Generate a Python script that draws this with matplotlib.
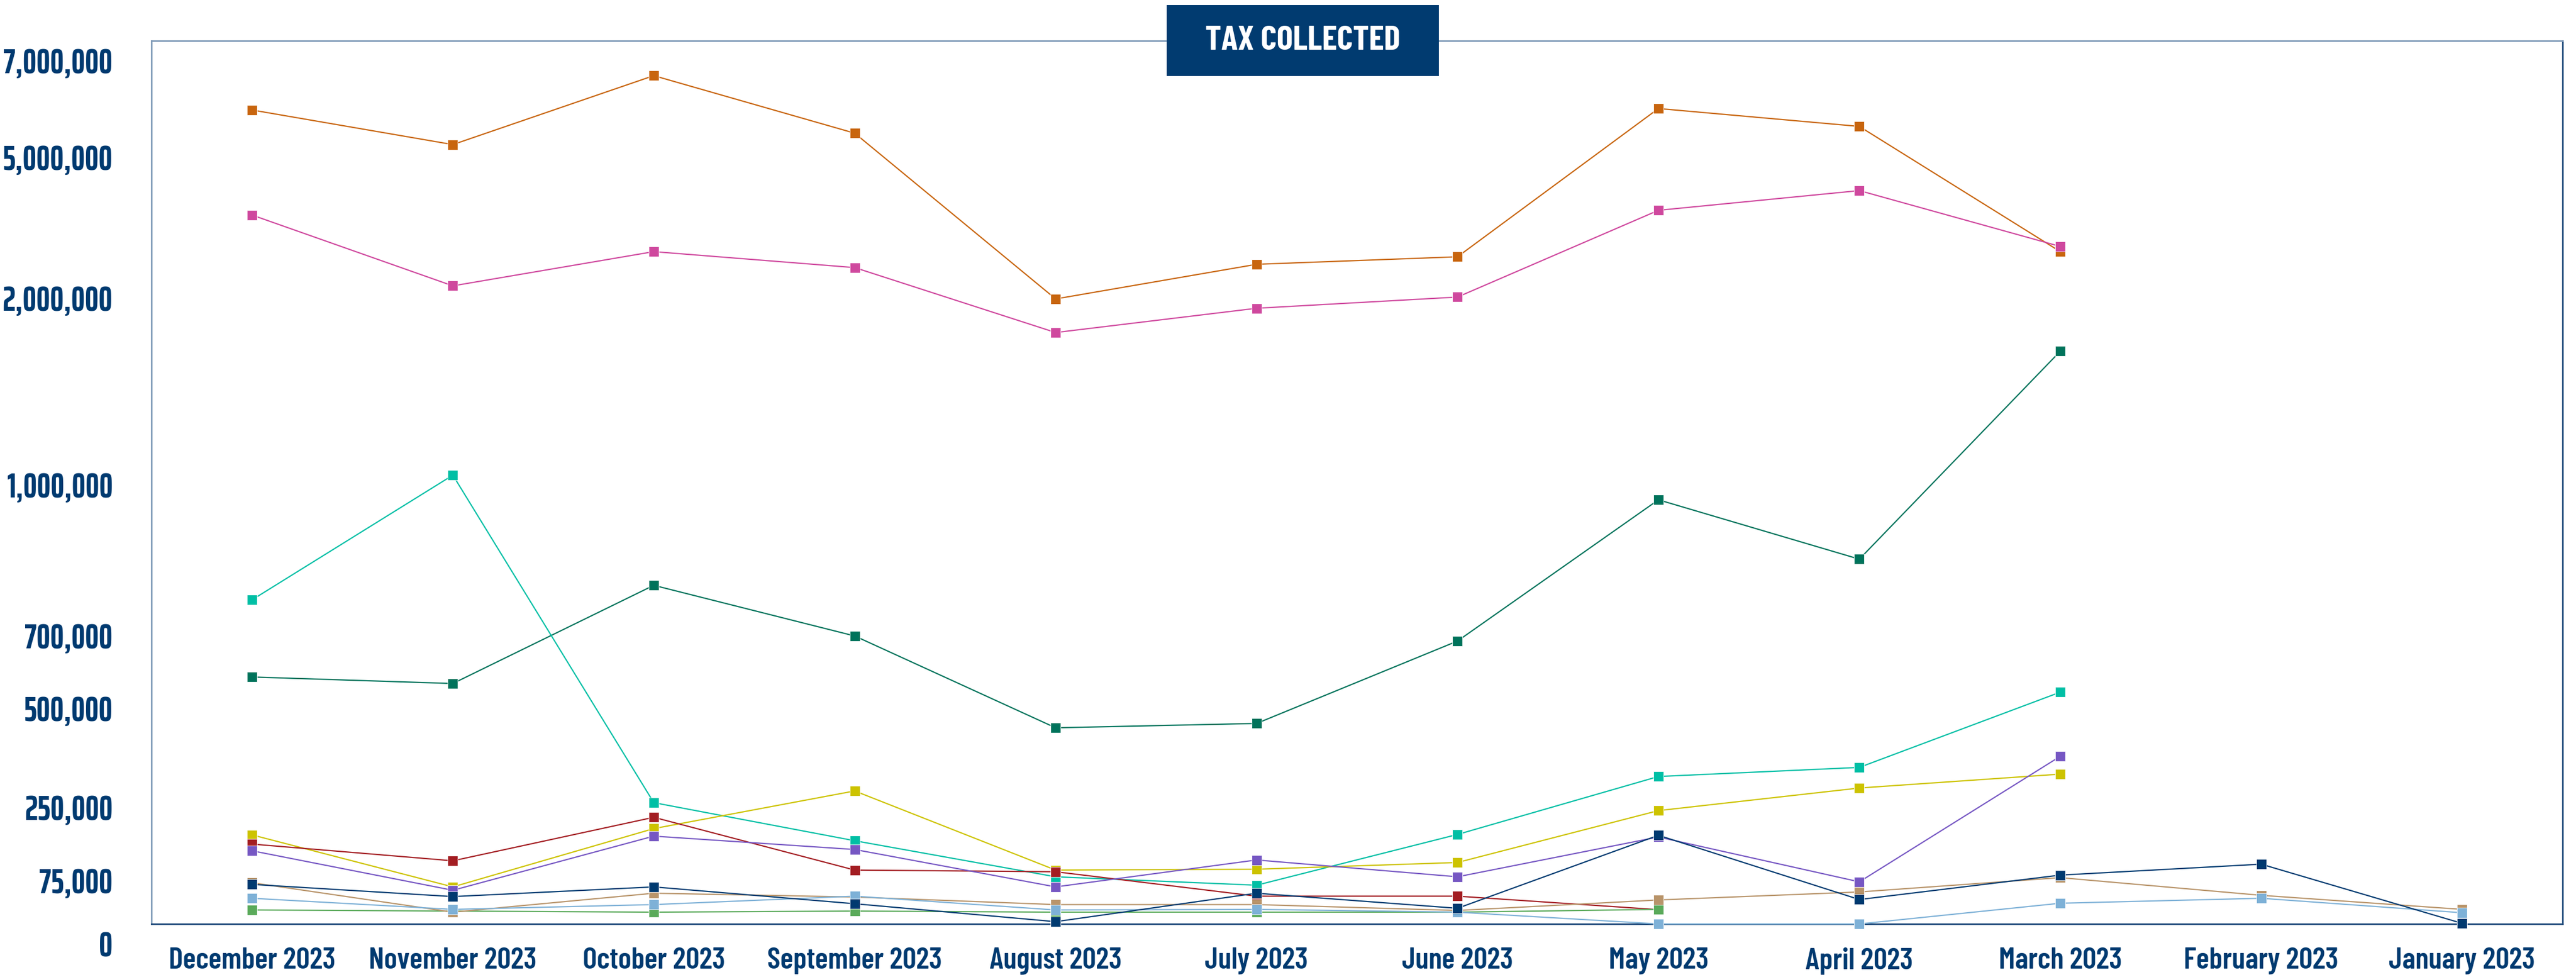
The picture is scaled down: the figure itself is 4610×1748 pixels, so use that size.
import numpy as np
import matplotlib.pyplot as plt
from matplotlib.patches import Rectangle
from matplotlib.transforms import ScaledTranslation

x_font = ["Barlow Condensed", "DejaVu Sans"]
y_font = ["Saira ExtraCondensed", "DejaVu Sans"]

months = ["December 2023", "November 2023", "October 2023", "September 2023",
          "August 2023", "July 2023", "June 2023", "May 2023", "April 2023",
          "March 2023", "February 2023", "January 2023"]
nan = np.nan

orange = [5.57e6, 4.85e6, 6.28e6, 5.09e6, 1.89e6, 2.30e6, 2.46e6, 5.60e6, 5.23e6, 2.57e6, nan, nan]
pink = [3.35e6, 1.96e6, 2.57e6, 2.23e6, 1.71e6, 1.84e6, 1.90e6, 3.45e6, 3.87e6, 2.68e6, nan, nan]
dark_green = [532e3, 514e3, 761e3, 645e3, 401e3, 412e3, 631e3, 931e3, 813e3, 1.61e6, nan, nan]
turquoise = [732e3, 980e3, 214e3, 123e3, 56e3, 46e3, 138e3, 278e3, 301e3, 491e3, nan, nan]
yellow = [137e3, 44e3, 152e3, 242e3, 64e3, 65e3, 73e3, 195e3, 249e3, 284e3, nan, nan]
red = [115e3, 75e3, 179e3, 64e3, 62e3, 33e3, 33e3, 17e3, nan, nan, nan, nan]
purple = [99e3, 40e3, 134e3, 102e3, 44e3, 77e3, 56e3, 132e3, 50e3, 329e3, nan, nan]
green = [16.6e3, 15.3e3, 14e3, 15.3e3, 14e3, 14e3, 14e3, 17.3e3, nan, nan, nan, nan]
tan = [49e3, 14e3, 36.5e3, 32e3, 23e3, 23e3, 16e3, 28.5e3, 38e3, 55e3, 34e3, 17.3e3]
light_blue = [30.5e3, 17.3e3, 23e3, 33e3, 16.6e3, 17.3e3, 14e3, 0, 0, 24.6e3, 30.5e3, 13.3e3]
navy = [47e3, 32.5e3, 44e3, 24e3, 2.7e3, 36.5e3, 18.6e3, 136e3, 29e3, 58e3, 71e3, 700]

y_ticks = [0, 75000, 250000, 500000, 700000, 1000000, 2000000, 5000000, 7000000]
y_tick_labels = ["0", "75,000", "250,000", "500,000", "700,000", "1,000,000",
                 "2,000,000", "5,000,000", "7,000,000"]
# where each tick sits on the axis (fraction of height), the axis is not linear
tick_pos = [0, 0.0715, 0.1544, 0.2665, 0.3487, 0.5196, 0.7310, 0.8905, 1.0]

series = [
    (orange, "#C8650E"),
    (pink, "#CF489E"),
    (dark_green, "#00735B"),
    (turquoise, "#00BFA5"),
    (yellow, "#CDC300"),
    (red, "#A31D22"),
    (purple, "#7657C3"),
    (green, "#5AAA5A"),
    (tan, "#B8946A"),
    (light_blue, "#7EB1D7"),
    (navy, "#003A70"),
]

navy_txt = "#003A70"


def fwd(v):
    return np.interp(v, y_ticks, tick_pos)


def inv(p):
    return np.interp(p, tick_pos, y_ticks)


fig = plt.figure(figsize=(46.1, 17.48), dpi=100)
ax = fig.add_axes([0.0588, 0.0543, 0.9360, 0.9039])
ax.set_yscale('function', functions=(fwd, inv))

x = np.arange(len(months))
for i, (vals, col) in enumerate(series):
    ax.plot(x, vals, color=col, lw=1.6, marker="s", markersize=12.5,
            markeredgecolor="white", markeredgewidth=0.6, zorder=3 + i,
            clip_on=False)

ax.set_xlim(-0.5, len(months) - 0.5)
ax.set_ylim(0, 7000000)
ax.set_yticks(y_ticks, y_tick_labels)
ax.set_xticks(x, months)
ax.tick_params(axis="y", length=0, pad=50, labelsize=44, labelcolor=navy_txt)
ax.tick_params(axis="x", length=0, pad=30, labelsize=39, labelcolor=navy_txt)
shift = ScaledTranslation(0, -0.12, fig.dpi_scale_trans)
for lbl in ax.get_yticklabels():
    lbl.set_family(y_font)
    lbl.set_fontweight("bold")
    lbl.set_verticalalignment("top")
    lbl.set_transform(lbl.get_transform() + shift)
for lbl in ax.get_xticklabels():
    lbl.set_family(x_font)
    lbl.set_fontweight("semibold")

for side in ["left", "top"]:
    ax.spines[side].set_color("#7F9AB8")
    ax.spines[side].set_linewidth(2)
for side in ["bottom", "right"]:
    ax.spines[side].set_color("#1F4A7A")
    ax.spines[side].set_linewidth(2)

# title box
fig.patches.append(Rectangle((0.4529, 0.9222), 0.1056, 0.0727, transform=fig.transFigure,
                             facecolor="#013B70", edgecolor="none", zorder=5))
fig.text(0.5057, 0.9585, "TAX COLLECTED", color="white", fontsize=44, fontweight="bold",
         family=x_font, ha="center", va="center", zorder=6)

fig.savefig("out.png", dpi=100, facecolor="white")
